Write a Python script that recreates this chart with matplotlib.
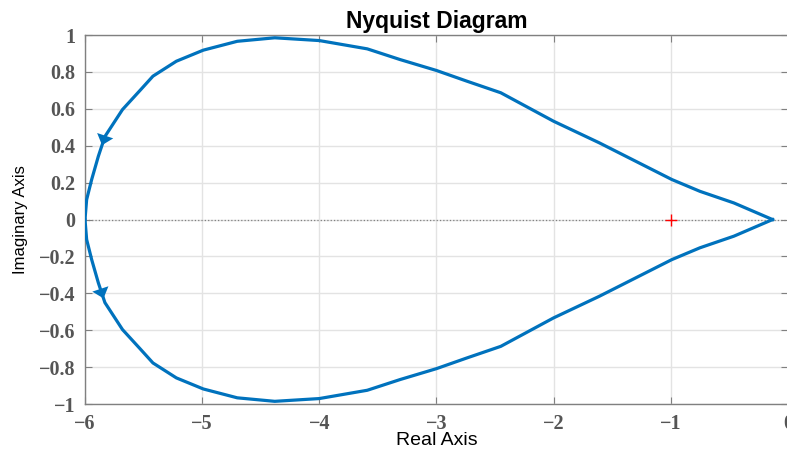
import numpy as np
import matplotlib.pyplot as plt
from matplotlib.patches import Polygon

# upper branch of the Nyquist curve (tip -> left end)
re_up = [-0.13, -0.46, -0.75, -0.99, -1.61, -2.0, -2.45, -2.74, -3.0, -3.31,
         -3.59, -4.0, -4.38, -4.70, -4.99, -5.22, -5.42, -5.53, -5.68,
         -5.83, -5.886, -5.943, -5.986, -6.0]
im_up = [0.0, 0.09, 0.153, 0.217, 0.416, 0.533, 0.687, 0.75, 0.808, 0.867,
         0.925, 0.97, 0.985, 0.966, 0.918, 0.858, 0.777, 0.70, 0.596,
         0.45, 0.343, 0.217, 0.108, 0.0]

# lower branch is the mirror image (negative frequencies)
re_lo = re_up[::-1]
im_lo = [-v for v in im_up[::-1]]

xticks = [-6, -5, -4, -3, -2, -1, 0]
yticks = [-1, -0.8, -0.6, -0.4, -0.2, 0, 0.2, 0.4, 0.6, 0.8, 1]
ytick_labels = ['\u22121', '\u22120.8', '\u22120.6', '\u22120.4', '\u22120.2', '0',
                '0.2', '0.4', '0.6', '0.8', '1']
xtick_labels = ['\u22126', '\u22125', '\u22124', '\u22123', '\u22122', '\u22121', '0']

blue = '#0072BD'

fig = plt.figure(figsize=(7.87, 4.49), dpi=100)
ax = fig.add_axes([0.108, 0.1, 0.893, 0.822])

ax.axhline(0, color='#808080', lw=0.9, ls=':', zorder=1)
ax.plot(re_up, im_up, color=blue, lw=2.3, zorder=3)
ax.plot(re_lo, im_lo, color=blue, lw=2.3, zorder=3)
ax.plot(-1, 0, '+', color='red', ms=9, mew=1.0, zorder=4)

ax.set_xlim(-6, 0)
ax.set_ylim(-1, 1)


# direction arrow heads, built in pixel space along a curve segment
def head(xs, ys, i, j, t, length=10, width=17):
    p0 = ax.transData.transform((xs[i], ys[i]))
    p1 = ax.transData.transform((xs[j], ys[j]))
    u = (p1 - p0) / np.hypot(*(p1 - p0))
    nrm = np.array([-u[1], u[0]])
    c = p0 + t * (p1 - p0)
    pts = [c + 0.6 * length * u,
           c - 0.4 * length * u + 0.5 * width * nrm,
           c - 0.4 * length * u - 0.5 * width * nrm]
    pts = ax.transData.inverted().transform(pts)
    ax.add_patch(Polygon(pts, closed=True, color=blue, lw=0, zorder=5))


k = re_up.index(-5.83)
head(re_up, im_up, k, k + 1, 0.15)
n = len(re_lo)
head(re_lo, im_lo, n - 2 - k, n - 1 - k, 0.5)

ax.set_xticks(xticks)
ax.set_xticklabels(xtick_labels)
ax.set_yticks(yticks)
ax.set_yticklabels(ytick_labels)

ax.grid(True, color='#e3e3e3', lw=1.0)
ax.set_axisbelow(True)
for s in ax.spines.values():
    s.set_color('#808080')
    s.set_linewidth(1.0)
ax.tick_params(direction='in', top=True, right=True, length=5, width=0.8,
               color='#808080', labelcolor='#555555', pad=7)
for lab in ax.get_xticklabels() + ax.get_yticklabels():
    lab.set_family('Liberation Serif')
    lab.set_fontweight('bold')
    lab.set_fontsize(14.5)

ax.set_title('Nyquist Diagram', family='Liberation Sans', fontweight='bold',
             fontsize=16.5, pad=5)
ax.set_xlabel('Real Axis', family='Liberation Sans', fontsize=14, labelpad=-1)
ax.set_ylabel('Imaginary Axis', family='Liberation Sans', fontsize=12,
              labelpad=8)

fig.savefig('out.png', dpi=100)
